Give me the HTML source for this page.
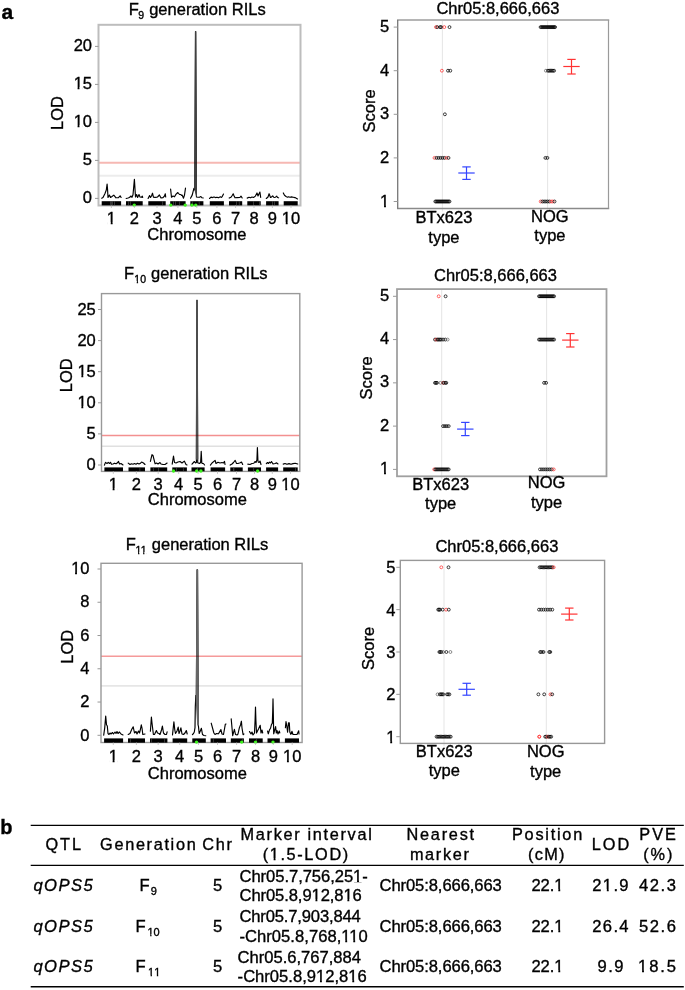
<!DOCTYPE html>
<html><head><meta charset="utf-8"><style>
html,body{margin:0;padding:0;background:#fff;}
svg{display:block;will-change:transform;}
text{font-family:"Liberation Sans", sans-serif;fill:#000;stroke:#000;stroke-width:0.35px;}
</style></head><body>
<svg width="685" height="990" viewBox="0 0 685 990">
<rect width="685" height="990" fill="#fff"/>
<path d="M101.70,198.20 L103.00,197.50 L105.00,193.50 L106.30,190.00 L107.10,184.10 L107.60,190.00 L108.00,197.50 L109.40,195.10 L110.50,197.50 L112.00,196.50 L113.80,195.10 L116.00,197.80 L118.50,197.60 L120.10,195.80 L121.10,197.50" fill="none" stroke="#000" stroke-width="1.15" stroke-linejoin="round" stroke-linecap="round"/>
<path d="M126.20,198.50 L128.00,198.00 L129.50,197.50 L131.00,196.00 L132.00,197.30 L133.00,194.80 L134.40,179.40 L135.50,197.00 L136.60,194.50 L137.60,197.50 L139.00,194.50 L140.00,197.00 L141.20,197.30 L142.30,196.20 L142.70,197.50" fill="none" stroke="#000" stroke-width="1.15" stroke-linejoin="round" stroke-linecap="round"/>
<path d="M148.10,198.50 L149.60,195.60 L150.50,197.50 L151.50,196.00 L152.50,193.20 L153.50,197.30 L155.00,197.40 L157.00,197.20 L158.00,196.50 L159.40,194.90 L161.00,198.00 L163.00,197.60 L164.50,196.00 L165.30,193.80 L165.70,197.00" fill="none" stroke="#000" stroke-width="1.15" stroke-linejoin="round" stroke-linecap="round"/>
<path d="M170.60,189.10 L171.50,197.20 L173.00,196.00 L174.50,196.80 L176.10,194.10 L177.80,192.50 L179.50,194.50 L180.80,194.50 L181.50,195.50 L182.10,195.10 L183.50,198.20 L184.50,195.00 L185.50,188.10" fill="none" stroke="#000" stroke-width="1.15" stroke-linejoin="round" stroke-linecap="round"/>
<path d="M190.50,198.20 L192.20,195.10 L193.90,188.40 L194.80,190.00 L195.50,31.60 L195.70,31.60 L196.45,197.00 L198.00,197.20 L199.50,197.30 L200.90,196.50 L202.00,197.80 L203.30,198.00" fill="none" stroke="#000" stroke-width="1.15" stroke-linejoin="round" stroke-linecap="round"/>
<path d="M209.50,198.50 L211.00,197.10 L212.50,197.60 L214.00,196.90 L215.50,197.60 L217.00,197.20 L218.40,197.80 L220.40,196.80 L221.20,197.40 L222.10,196.80 L223.50,194.10" fill="none" stroke="#000" stroke-width="1.15" stroke-linejoin="round" stroke-linecap="round"/>
<path d="M229.20,198.10 L231.00,197.20 L232.20,195.50 L233.20,193.80 L234.00,195.80 L235.00,197.80 L237.00,197.60 L239.90,197.50 L241.00,196.10 L242.20,198.00" fill="none" stroke="#000" stroke-width="1.15" stroke-linejoin="round" stroke-linecap="round"/>
<path d="M247.20,198.10 L249.00,197.30 L250.50,197.80 L252.00,197.00 L253.50,197.50 L255.40,196.10 L257.00,192.90 L258.00,196.00 L259.90,192.00 L260.70,197.50" fill="none" stroke="#000" stroke-width="1.15" stroke-linejoin="round" stroke-linecap="round"/>
<path d="M266.30,198.50 L268.00,197.00 L269.10,193.70 L270.50,197.50 L271.50,197.00 L272.70,195.80 L274.00,197.50 L275.50,197.20 L276.70,196.10 L277.50,197.50 L278.60,197.80" fill="none" stroke="#000" stroke-width="1.15" stroke-linejoin="round" stroke-linecap="round"/>
<path d="M283.30,192.90 L284.50,195.30 L286.00,196.50 L287.50,197.20 L288.50,196.80 L290.00,197.30 L291.50,196.90 L293.20,197.20 L295.00,197.60 L297.50,198.90" fill="none" stroke="#000" stroke-width="1.15" stroke-linejoin="round" stroke-linecap="round"/>
<path d="M194.80,189.00 L195.50,31.60 L195.70,31.60 L196.45,196.00Z" fill="#404040" stroke="#404040" stroke-width="1.05" stroke-linejoin="round"/>
<line x1="98.50" y1="162.80" x2="300.50" y2="162.80" stroke="#f6b8b3" stroke-width="2.0" style="mix-blend-mode:multiply"/>
<line x1="98.50" y1="175.70" x2="300.50" y2="175.70" stroke="#ececec" stroke-width="2.0" style="mix-blend-mode:multiply"/>
<rect x="98.50" y="24.80" width="202.00" height="180.70" fill="none" stroke="#bdbdbd" stroke-width="2.0"/>
<rect x="101.70" y="201.20" width="19.40" height="4.20" fill="#000"/>
<rect x="114.03" y="201.20" width="0.5" height="4.20" fill="#666"/>
<rect x="112.02" y="201.20" width="0.5" height="4.20" fill="#666"/>
<rect x="111.53" y="201.20" width="0.5" height="4.20" fill="#666"/>
<rect x="110.25" y="201.20" width="0.5" height="4.20" fill="#666"/>
<rect x="126.00" y="201.20" width="16.70" height="4.20" fill="#000"/>
<rect x="128.33" y="201.20" width="0.5" height="4.20" fill="#666"/>
<rect x="130.28" y="201.20" width="0.5" height="4.20" fill="#666"/>
<rect x="148.30" y="201.20" width="17.40" height="4.20" fill="#000"/>
<rect x="162.52" y="201.20" width="0.5" height="4.20" fill="#666"/>
<rect x="170.20" y="201.20" width="15.40" height="4.20" fill="#000"/>
<rect x="173.13" y="201.20" width="0.5" height="4.20" fill="#666"/>
<rect x="175.33" y="201.20" width="0.5" height="4.20" fill="#666"/>
<rect x="178.99" y="201.20" width="0.5" height="4.20" fill="#666"/>
<rect x="190.30" y="201.20" width="13.10" height="4.20" fill="#000"/>
<rect x="191.96" y="201.20" width="0.5" height="4.20" fill="#666"/>
<rect x="198.85" y="201.20" width="0.5" height="4.20" fill="#666"/>
<rect x="209.80" y="201.20" width="14.10" height="4.20" fill="#000"/>
<rect x="229.00" y="201.20" width="13.20" height="4.20" fill="#000"/>
<rect x="238.90" y="201.20" width="0.5" height="4.20" fill="#666"/>
<rect x="236.43" y="201.20" width="0.5" height="4.20" fill="#666"/>
<rect x="247.30" y="201.20" width="13.40" height="4.20" fill="#000"/>
<rect x="259.47" y="201.20" width="0.5" height="4.20" fill="#666"/>
<rect x="253.07" y="201.20" width="0.5" height="4.20" fill="#666"/>
<rect x="266.10" y="201.20" width="12.50" height="4.20" fill="#000"/>
<rect x="272.23" y="201.20" width="0.5" height="4.20" fill="#666"/>
<rect x="274.12" y="201.20" width="0.5" height="4.20" fill="#666"/>
<rect x="283.70" y="201.20" width="14.00" height="4.20" fill="#000"/>
<circle cx="134.30" cy="205.10" r="1.7" fill="#3cf01c"/>
<circle cx="170.80" cy="205.10" r="1.7" fill="#3cf01c"/>
<circle cx="185.20" cy="205.10" r="1.7" fill="#3cf01c"/>
<circle cx="191.90" cy="205.10" r="1.7" fill="#3cf01c"/>
<circle cx="195.80" cy="205.10" r="1.7" fill="#3cf01c"/>
<line x1="95.00" y1="198.40" x2="98.50" y2="198.40" stroke="#999" stroke-width="1" />
<text x="92.00" y="202.70" font-size="16.5" text-anchor="end" >0</text>
<line x1="95.00" y1="160.40" x2="98.50" y2="160.40" stroke="#999" stroke-width="1" />
<text x="92.00" y="164.70" font-size="16.5" text-anchor="end" >5</text>
<line x1="95.00" y1="122.40" x2="98.50" y2="122.40" stroke="#999" stroke-width="1" />
<text x="92.00" y="126.70" font-size="16.5" text-anchor="end" >10</text>
<line x1="95.00" y1="84.40" x2="98.50" y2="84.40" stroke="#999" stroke-width="1" />
<text x="92.00" y="88.70" font-size="16.5" text-anchor="end" >15</text>
<line x1="95.00" y1="46.40" x2="98.50" y2="46.40" stroke="#999" stroke-width="1" />
<text x="92.00" y="50.70" font-size="16.5" text-anchor="end" >20</text>
<line x1="111.40" y1="205.50" x2="111.40" y2="208.00" stroke="#bbb" stroke-width="0.8" />
<text x="111.40" y="223.80" font-size="16.5" text-anchor="middle" >1</text>
<line x1="134.40" y1="205.50" x2="134.40" y2="208.00" stroke="#bbb" stroke-width="0.8" />
<text x="134.40" y="223.80" font-size="16.5" text-anchor="middle" >2</text>
<line x1="157.00" y1="205.50" x2="157.00" y2="208.00" stroke="#bbb" stroke-width="0.8" />
<text x="157.00" y="223.80" font-size="16.5" text-anchor="middle" >3</text>
<line x1="177.90" y1="205.50" x2="177.90" y2="208.00" stroke="#bbb" stroke-width="0.8" />
<text x="177.90" y="223.80" font-size="16.5" text-anchor="middle" >4</text>
<line x1="196.80" y1="205.50" x2="196.80" y2="208.00" stroke="#bbb" stroke-width="0.8" />
<text x="196.80" y="223.80" font-size="16.5" text-anchor="middle" >5</text>
<line x1="216.90" y1="205.50" x2="216.90" y2="208.00" stroke="#bbb" stroke-width="0.8" />
<text x="216.90" y="223.80" font-size="16.5" text-anchor="middle" >6</text>
<line x1="235.60" y1="205.50" x2="235.60" y2="208.00" stroke="#bbb" stroke-width="0.8" />
<text x="235.60" y="223.80" font-size="16.5" text-anchor="middle" >7</text>
<line x1="254.00" y1="205.50" x2="254.00" y2="208.00" stroke="#bbb" stroke-width="0.8" />
<text x="254.00" y="223.80" font-size="16.5" text-anchor="middle" >8</text>
<line x1="272.40" y1="205.50" x2="272.40" y2="208.00" stroke="#bbb" stroke-width="0.8" />
<text x="272.40" y="223.80" font-size="16.5" text-anchor="middle" >9</text>
<line x1="291.00" y1="205.50" x2="291.00" y2="208.00" stroke="#bbb" stroke-width="0.8" />
<text x="291.00" y="223.80" font-size="16.5" text-anchor="middle" >10</text>
<text x="147.30" y="240.30" font-size="16.5" text-anchor="start" >Chromosome</text>
<text x="0" y="0" font-size="16.5" text-anchor="middle" transform="translate(62.50,113.00) rotate(-90)">LOD</text>
<text x="128.80" y="14.90" font-size="16.5" text-anchor="start" >F</text>
<text x="138.20" y="18.60" font-size="10.5" text-anchor="start" >9</text>
<text x="149.20" y="14.90" font-size="16.5" text-anchor="start" >generation RILs</text>
<path d="M104.40,465.10 L105.50,462.40 L107.00,463.50 L108.30,462.40 L109.50,463.50 L110.50,462.30 L111.50,464.30 L113.00,464.00 L114.50,463.20 L116.00,463.80 L117.50,462.80 L118.50,461.40 L119.50,464.00 L121.00,463.50 L123.00,465.00" fill="none" stroke="#000" stroke-width="1.15" stroke-linejoin="round" stroke-linecap="round"/>
<path d="M128.20,463.10 L130.00,464.50 L131.50,463.80 L133.00,464.20 L134.50,463.50 L136.00,464.20 L137.50,463.30 L139.00,464.00 L140.50,463.20 L141.60,462.10 L143.50,463.00 L145.00,464.50" fill="none" stroke="#000" stroke-width="1.15" stroke-linejoin="round" stroke-linecap="round"/>
<path d="M150.40,461.40 L152.00,454.70 L153.00,455.50 L155.10,463.80 L156.50,463.00 L158.00,464.00 L160.00,462.50 L161.00,464.00 L163.00,464.50 L165.00,464.50 L167.10,463.10" fill="none" stroke="#000" stroke-width="1.15" stroke-linejoin="round" stroke-linecap="round"/>
<path d="M172.20,464.10 L173.50,456.10 L174.50,462.50 L176.00,463.00 L178.00,462.00 L180.00,461.50 L182.00,463.00 L184.30,461.10 L186.00,464.50 L187.00,465.00" fill="none" stroke="#000" stroke-width="1.15" stroke-linejoin="round" stroke-linecap="round"/>
<path d="M192.00,464.20 L194.40,461.50 L195.50,463.00 L196.40,462.50 L196.90,300.30 L197.10,300.30 L197.70,462.80 L199.50,463.50 L200.60,462.50 L201.00,456.00 L201.20,451.40 L201.45,456.00 L201.80,463.00 L202.50,463.50 L203.40,463.50 L204.60,465.00" fill="none" stroke="#000" stroke-width="1.15" stroke-linejoin="round" stroke-linecap="round"/>
<path d="M210.40,465.10 L212.00,463.00 L215.10,460.40 L216.00,463.50 L218.00,462.30 L220.00,463.00 L222.00,462.50 L223.50,463.00 L224.50,461.40 L225.00,464.50" fill="none" stroke="#000" stroke-width="1.15" stroke-linejoin="round" stroke-linecap="round"/>
<path d="M230.20,465.10 L232.00,464.00 L233.50,462.50 L235.20,460.40 L236.50,463.50 L238.00,463.50 L240.20,462.80 L241.50,462.00 L242.70,464.50" fill="none" stroke="#000" stroke-width="1.15" stroke-linejoin="round" stroke-linecap="round"/>
<path d="M247.80,464.10 L250.00,464.50 L252.00,463.50 L253.80,463.30 L255.00,461.50 L256.00,462.50 L256.90,460.00 L257.40,447.60 L257.90,460.00 L258.20,462.00 L259.10,462.50 L260.00,461.00 L261.00,464.50" fill="none" stroke="#000" stroke-width="1.15" stroke-linejoin="round" stroke-linecap="round"/>
<path d="M266.30,463.70 L267.50,462.50 L268.50,463.50 L269.50,462.10 L270.50,463.00 L271.50,461.50 L273.00,464.00 L275.00,463.50 L276.70,462.90 L278.00,464.00" fill="none" stroke="#000" stroke-width="1.15" stroke-linejoin="round" stroke-linecap="round"/>
<path d="M283.20,464.10 L285.00,463.50 L287.00,464.30 L289.00,463.60 L291.00,464.30 L293.00,463.60 L295.20,463.30 L297.70,464.00" fill="none" stroke="#000" stroke-width="1.15" stroke-linejoin="round" stroke-linecap="round"/>
<path d="M196.45,459.00 L196.90,300.40 L197.10,300.40 L197.65,459.00Z" fill="#505050" stroke="#505050" stroke-width="1.3" stroke-linejoin="round"/>
<line x1="101.50" y1="435.40" x2="299.80" y2="435.40" stroke="#f39090" stroke-width="1.5" style="mix-blend-mode:multiply"/>
<line x1="101.50" y1="446.30" x2="299.80" y2="446.30" stroke="#e0e0e0" stroke-width="1.5" style="mix-blend-mode:multiply"/>
<rect x="101.50" y="293.60" width="198.30" height="177.80" fill="none" stroke="#999" stroke-width="1.4"/>
<rect x="104.40" y="467.40" width="18.60" height="3.90" fill="#000"/>
<rect x="128.50" y="467.40" width="16.50" height="3.90" fill="#000"/>
<rect x="139.67" y="467.40" width="0.5" height="3.90" fill="#666"/>
<rect x="150.40" y="467.40" width="16.80" height="3.90" fill="#000"/>
<rect x="158.23" y="467.40" width="0.5" height="3.90" fill="#666"/>
<rect x="153.13" y="467.40" width="0.5" height="3.90" fill="#666"/>
<rect x="172.30" y="467.40" width="14.60" height="3.90" fill="#000"/>
<rect x="182.98" y="467.40" width="0.5" height="3.90" fill="#666"/>
<rect x="176.42" y="467.40" width="0.5" height="3.90" fill="#666"/>
<rect x="191.50" y="467.40" width="13.10" height="3.90" fill="#000"/>
<rect x="197.49" y="467.40" width="0.5" height="3.90" fill="#666"/>
<rect x="210.60" y="467.40" width="14.50" height="3.90" fill="#000"/>
<rect x="230.30" y="467.40" width="12.40" height="3.90" fill="#000"/>
<rect x="233.13" y="467.40" width="0.5" height="3.90" fill="#666"/>
<rect x="233.73" y="467.40" width="0.5" height="3.90" fill="#666"/>
<rect x="247.90" y="467.40" width="13.10" height="3.90" fill="#000"/>
<rect x="253.55" y="467.40" width="0.5" height="3.90" fill="#666"/>
<rect x="266.10" y="467.40" width="12.00" height="3.90" fill="#000"/>
<rect x="283.20" y="467.40" width="14.50" height="3.90" fill="#000"/>
<rect x="295.44" y="467.40" width="0.5" height="3.90" fill="#666"/>
<circle cx="173.50" cy="471.00" r="1.7" fill="#3cf01c"/>
<circle cx="196.70" cy="471.00" r="1.7" fill="#3cf01c"/>
<circle cx="200.90" cy="471.00" r="1.7" fill="#3cf01c"/>
<circle cx="257.60" cy="471.00" r="1.7" fill="#3cf01c"/>
<line x1="98.00" y1="465.00" x2="101.50" y2="465.00" stroke="#999" stroke-width="1" />
<text x="95.80" y="470.40" font-size="16.5" text-anchor="end" >0</text>
<line x1="98.00" y1="433.90" x2="101.50" y2="433.90" stroke="#999" stroke-width="1" />
<text x="95.80" y="439.30" font-size="16.5" text-anchor="end" >5</text>
<line x1="98.00" y1="402.80" x2="101.50" y2="402.80" stroke="#999" stroke-width="1" />
<text x="95.80" y="408.20" font-size="16.5" text-anchor="end" >10</text>
<line x1="98.00" y1="371.70" x2="101.50" y2="371.70" stroke="#999" stroke-width="1" />
<text x="95.80" y="377.10" font-size="16.5" text-anchor="end" >15</text>
<line x1="98.00" y1="340.60" x2="101.50" y2="340.60" stroke="#999" stroke-width="1" />
<text x="95.80" y="346.00" font-size="16.5" text-anchor="end" >20</text>
<line x1="98.00" y1="309.50" x2="101.50" y2="309.50" stroke="#999" stroke-width="1" />
<text x="95.80" y="314.90" font-size="16.5" text-anchor="end" >25</text>
<line x1="113.30" y1="471.40" x2="113.30" y2="473.90" stroke="#bbb" stroke-width="0.8" />
<text x="113.30" y="490.40" font-size="16.5" text-anchor="middle" >1</text>
<line x1="136.40" y1="471.40" x2="136.40" y2="473.90" stroke="#bbb" stroke-width="0.8" />
<text x="136.40" y="490.40" font-size="16.5" text-anchor="middle" >2</text>
<line x1="158.20" y1="471.40" x2="158.20" y2="473.90" stroke="#bbb" stroke-width="0.8" />
<text x="158.20" y="490.40" font-size="16.5" text-anchor="middle" >3</text>
<line x1="178.70" y1="471.40" x2="178.70" y2="473.90" stroke="#bbb" stroke-width="0.8" />
<text x="178.70" y="490.40" font-size="16.5" text-anchor="middle" >4</text>
<line x1="198.10" y1="471.40" x2="198.10" y2="473.90" stroke="#bbb" stroke-width="0.8" />
<text x="198.10" y="490.40" font-size="16.5" text-anchor="middle" >5</text>
<line x1="217.50" y1="471.40" x2="217.50" y2="473.90" stroke="#bbb" stroke-width="0.8" />
<text x="217.50" y="490.40" font-size="16.5" text-anchor="middle" >6</text>
<line x1="236.50" y1="471.40" x2="236.50" y2="473.90" stroke="#bbb" stroke-width="0.8" />
<text x="236.50" y="490.40" font-size="16.5" text-anchor="middle" >7</text>
<line x1="254.50" y1="471.40" x2="254.50" y2="473.90" stroke="#bbb" stroke-width="0.8" />
<text x="254.50" y="490.40" font-size="16.5" text-anchor="middle" >8</text>
<line x1="272.30" y1="471.40" x2="272.30" y2="473.90" stroke="#bbb" stroke-width="0.8" />
<text x="272.30" y="490.40" font-size="16.5" text-anchor="middle" >9</text>
<line x1="290.50" y1="471.40" x2="290.50" y2="473.90" stroke="#bbb" stroke-width="0.8" />
<text x="290.50" y="490.40" font-size="16.5" text-anchor="middle" >10</text>
<text x="147.80" y="504.90" font-size="16.5" text-anchor="start" >Chromosome</text>
<text x="0" y="0" font-size="16.5" text-anchor="middle" transform="translate(72.00,375.30) rotate(-90)">LOD</text>
<text x="124.10" y="278.60" font-size="16.5" text-anchor="start" >F</text>
<text x="134.30" y="282.60" font-size="10.5" text-anchor="start" >10</text>
<text x="151.10" y="278.60" font-size="16.5" text-anchor="start" >generation RILs</text>
<path d="M103.70,735.20 L104.70,728.10 L105.70,716.10 L106.50,724.80 L107.30,726.00 L108.00,733.50 L109.00,734.50 L110.00,733.00 L111.00,734.00 L112.50,732.50 L113.50,734.00 L115.00,732.00 L116.00,733.50 L117.00,731.50 L118.00,733.50 L119.50,732.00 L121.00,734.00 L123.00,735.00" fill="none" stroke="#000" stroke-width="1.15" stroke-linejoin="round" stroke-linecap="round"/>
<path d="M128.20,734.50 L130.00,733.50 L131.90,729.00 L133.20,726.80 L134.50,733.00 L136.00,731.50 L137.00,734.00 L138.50,731.00 L139.50,733.00 L140.50,729.00 L141.30,724.80 L142.00,728.00 L142.80,734.50 L145.00,734.00" fill="none" stroke="#000" stroke-width="1.15" stroke-linejoin="round" stroke-linecap="round"/>
<path d="M150.40,731.20 L151.40,717.10 L152.00,723.00 L153.40,734.50 L154.50,734.50 L156.40,730.50 L157.50,733.00 L159.00,733.50 L160.00,734.50 L161.50,730.00 L162.40,726.10 L163.50,733.00 L165.00,734.50 L166.50,734.50 L167.10,731.80" fill="none" stroke="#000" stroke-width="1.15" stroke-linejoin="round" stroke-linecap="round"/>
<path d="M172.50,734.90 L173.90,721.80 L174.80,730.00 L175.50,733.50 L177.00,731.00 L178.20,727.10 L179.00,733.50 L180.00,731.00 L180.90,727.80 L182.00,734.00 L183.50,734.50 L185.00,733.00 L186.30,730.50 L187.20,734.00" fill="none" stroke="#000" stroke-width="1.15" stroke-linejoin="round" stroke-linecap="round"/>
<path d="M192.40,734.70 L193.50,733.50 L194.30,732.00 L195.00,727.60 L195.30,706.80 L195.80,695.40 L196.30,700.00 L197.10,569.80 L197.50,569.80 L198.30,724.90 L199.20,733.50 L200.30,731.00 L201.40,728.30 L202.50,734.50 L204.00,735.50 L205.80,735.70" fill="none" stroke="#000" stroke-width="1.15" stroke-linejoin="round" stroke-linecap="round"/>
<path d="M211.20,723.20 L213.90,733.00 L215.00,734.50 L216.50,733.50 L218.50,733.80 L220.90,729.60 L222.00,734.00 L223.50,734.50 L225.30,724.30 L226.00,724.00" fill="none" stroke="#000" stroke-width="1.15" stroke-linejoin="round" stroke-linecap="round"/>
<path d="M231.20,718.90 L232.70,735.70 L234.40,729.30 L235.50,734.50 L237.00,735.00 L238.00,734.00 L239.40,727.60 L240.50,725.00 L241.40,721.20 L242.00,728.00 L243.10,734.70 L243.90,734.00" fill="none" stroke="#000" stroke-width="1.15" stroke-linejoin="round" stroke-linecap="round"/>
<path d="M249.50,731.60 L251.00,734.00 L252.00,732.00 L253.00,735.00 L254.50,733.00 L255.10,720.00 L255.50,707.10 L255.90,720.00 L256.50,733.00 L257.50,731.00 L258.50,729.00 L260.20,725.30 L261.00,733.00 L262.00,730.00 L262.70,733.00" fill="none" stroke="#000" stroke-width="1.15" stroke-linejoin="round" stroke-linecap="round"/>
<path d="M267.60,731.00 L268.30,733.80 L269.50,729.90 L270.50,728.30 L271.50,724.40 L272.30,723.30 L272.70,712.00 L273.00,698.90 L273.30,712.00 L273.70,733.80 L275.60,726.60 L276.30,733.00 L277.00,730.50 L278.00,734.00 L279.30,731.00 L279.80,733.00" fill="none" stroke="#000" stroke-width="1.15" stroke-linejoin="round" stroke-linecap="round"/>
<path d="M285.40,727.70 L286.00,721.60 L286.80,726.00 L287.60,732.20 L288.50,722.70 L289.30,722.70 L289.80,732.00 L290.80,734.40 L292.00,731.30 L293.00,734.50 L297.00,734.50 L298.70,730.80 L299.00,734.00" fill="none" stroke="#000" stroke-width="1.15" stroke-linejoin="round" stroke-linecap="round"/>
<path d="M196.40,702.00 L197.10,569.80 L197.50,569.80 L198.30,724.90 L197.90,724.90Z" fill="#666" stroke="#666" stroke-width="1.3" stroke-linejoin="round"/>
<line x1="101.00" y1="656.30" x2="302.10" y2="656.30" stroke="#f59a9a" stroke-width="1.6" style="mix-blend-mode:multiply"/>
<line x1="101.00" y1="685.90" x2="302.10" y2="685.90" stroke="#e6e6e6" stroke-width="1.6" style="mix-blend-mode:multiply"/>
<rect x="101.00" y="563.30" width="201.10" height="179.20" fill="none" stroke="#999" stroke-width="1.4"/>
<rect x="104.10" y="738.40" width="19.00" height="4.30" fill="#000"/>
<rect x="128.00" y="738.40" width="17.00" height="4.30" fill="#000"/>
<rect x="130.01" y="738.40" width="0.5" height="4.30" fill="#666"/>
<rect x="150.00" y="738.40" width="17.40" height="4.30" fill="#000"/>
<rect x="151.00" y="738.40" width="0.5" height="4.30" fill="#666"/>
<rect x="164.46" y="738.40" width="0.5" height="4.30" fill="#666"/>
<rect x="172.60" y="738.40" width="14.60" height="4.30" fill="#000"/>
<rect x="192.30" y="738.40" width="13.50" height="4.30" fill="#000"/>
<rect x="210.60" y="738.40" width="15.40" height="4.30" fill="#000"/>
<rect x="212.97" y="738.40" width="0.5" height="4.30" fill="#666"/>
<rect x="230.80" y="738.40" width="13.10" height="4.30" fill="#000"/>
<rect x="242.36" y="738.40" width="0.5" height="4.30" fill="#666"/>
<rect x="249.00" y="738.40" width="13.70" height="4.30" fill="#000"/>
<rect x="256.18" y="738.40" width="0.5" height="4.30" fill="#666"/>
<rect x="267.50" y="738.40" width="12.30" height="4.30" fill="#000"/>
<rect x="284.90" y="738.40" width="14.10" height="4.30" fill="#000"/>
<circle cx="196.50" cy="742.10" r="1.7" fill="#3cf01c"/>
<circle cx="241.70" cy="742.10" r="1.7" fill="#3cf01c"/>
<circle cx="255.50" cy="742.10" r="1.7" fill="#3cf01c"/>
<circle cx="273.00" cy="742.10" r="1.7" fill="#3cf01c"/>
<line x1="97.50" y1="735.30" x2="101.00" y2="735.30" stroke="#999" stroke-width="1" />
<text x="89.50" y="740.50" font-size="16.5" text-anchor="end" >0</text>
<line x1="97.50" y1="702.04" x2="101.00" y2="702.04" stroke="#999" stroke-width="1" />
<text x="89.50" y="707.24" font-size="16.5" text-anchor="end" >2</text>
<line x1="97.50" y1="668.78" x2="101.00" y2="668.78" stroke="#999" stroke-width="1" />
<text x="89.50" y="673.98" font-size="16.5" text-anchor="end" >4</text>
<line x1="97.50" y1="635.52" x2="101.00" y2="635.52" stroke="#999" stroke-width="1" />
<text x="89.50" y="640.72" font-size="16.5" text-anchor="end" >6</text>
<line x1="97.50" y1="602.26" x2="101.00" y2="602.26" stroke="#999" stroke-width="1" />
<text x="89.50" y="607.46" font-size="16.5" text-anchor="end" >8</text>
<line x1="97.50" y1="569.00" x2="101.00" y2="569.00" stroke="#999" stroke-width="1" />
<text x="89.50" y="574.20" font-size="16.5" text-anchor="end" >10</text>
<line x1="113.30" y1="742.50" x2="113.30" y2="745.00" stroke="#bbb" stroke-width="0.8" />
<text x="113.30" y="761.60" font-size="16.5" text-anchor="middle" >1</text>
<line x1="136.40" y1="742.50" x2="136.40" y2="745.00" stroke="#bbb" stroke-width="0.8" />
<text x="136.40" y="761.60" font-size="16.5" text-anchor="middle" >2</text>
<line x1="158.20" y1="742.50" x2="158.20" y2="745.00" stroke="#bbb" stroke-width="0.8" />
<text x="158.20" y="761.60" font-size="16.5" text-anchor="middle" >3</text>
<line x1="179.70" y1="742.50" x2="179.70" y2="745.00" stroke="#bbb" stroke-width="0.8" />
<text x="179.70" y="761.60" font-size="16.5" text-anchor="middle" >4</text>
<line x1="198.50" y1="742.50" x2="198.50" y2="745.00" stroke="#bbb" stroke-width="0.8" />
<text x="198.50" y="761.60" font-size="16.5" text-anchor="middle" >5</text>
<line x1="217.50" y1="742.50" x2="217.50" y2="745.00" stroke="#bbb" stroke-width="0.8" />
<text x="217.50" y="761.60" font-size="16.5" text-anchor="middle" >6</text>
<line x1="236.60" y1="742.50" x2="236.60" y2="745.00" stroke="#bbb" stroke-width="0.8" />
<text x="236.60" y="761.60" font-size="16.5" text-anchor="middle" >7</text>
<line x1="255.50" y1="742.50" x2="255.50" y2="745.00" stroke="#bbb" stroke-width="0.8" />
<text x="255.50" y="761.60" font-size="16.5" text-anchor="middle" >8</text>
<line x1="273.30" y1="742.50" x2="273.30" y2="745.00" stroke="#bbb" stroke-width="0.8" />
<text x="273.30" y="761.60" font-size="16.5" text-anchor="middle" >9</text>
<line x1="292.20" y1="742.50" x2="292.20" y2="745.00" stroke="#bbb" stroke-width="0.8" />
<text x="292.20" y="761.60" font-size="16.5" text-anchor="middle" >10</text>
<text x="147.80" y="778.50" font-size="16.5" text-anchor="start" >Chromosome</text>
<text x="0" y="0" font-size="16.5" text-anchor="middle" transform="translate(73.40,646.70) rotate(-90)">LOD</text>
<text x="125.80" y="550.40" font-size="16.5" text-anchor="start" >F</text>
<text x="135.60" y="554.00" font-size="10.5" text-anchor="start" >11</text>
<text x="151.80" y="550.40" font-size="16.5" text-anchor="start" >generation RILs</text>
<line x1="442.40" y1="20.00" x2="442.40" y2="211.50" stroke="#e2e2e2" stroke-width="0.9" />
<line x1="547.60" y1="20.00" x2="547.60" y2="211.50" stroke="#e2e2e2" stroke-width="0.9" />
<circle cx="436.00" cy="27.10" r="1.45" fill="none" stroke="#ff3333" stroke-width="0.75"/>
<circle cx="437.30" cy="27.10" r="1.45" fill="none" stroke="#000" stroke-width="0.75"/>
<circle cx="440.10" cy="27.10" r="1.45" fill="none" stroke="#000" stroke-width="0.75"/>
<circle cx="441.20" cy="27.10" r="1.45" fill="none" stroke="#000" stroke-width="0.75"/>
<circle cx="444.30" cy="27.10" r="1.45" fill="none" stroke="#ff3333" stroke-width="0.75"/>
<circle cx="449.50" cy="27.10" r="1.45" fill="none" stroke="#000" stroke-width="0.75"/>
<circle cx="441.90" cy="70.70" r="1.45" fill="none" stroke="#ff3333" stroke-width="0.75"/>
<circle cx="448.00" cy="70.70" r="1.45" fill="none" stroke="#000" stroke-width="0.75"/>
<circle cx="450.30" cy="70.70" r="1.45" fill="none" stroke="#000" stroke-width="0.75"/>
<circle cx="444.90" cy="114.30" r="1.45" fill="none" stroke="#000" stroke-width="0.75"/>
<circle cx="434.50" cy="157.90" r="1.45" fill="none" stroke="#ff3333" stroke-width="0.75"/>
<circle cx="436.50" cy="157.90" r="1.45" fill="none" stroke="#000" stroke-width="0.75"/>
<circle cx="438.50" cy="157.90" r="1.45" fill="none" stroke="#000" stroke-width="0.75"/>
<circle cx="440.50" cy="157.90" r="1.45" fill="none" stroke="#000" stroke-width="0.75"/>
<circle cx="442.50" cy="157.90" r="1.45" fill="none" stroke="#000" stroke-width="0.75"/>
<circle cx="444.50" cy="157.90" r="1.45" fill="none" stroke="#000" stroke-width="0.75"/>
<circle cx="446.50" cy="157.90" r="1.45" fill="none" stroke="#ff3333" stroke-width="0.75"/>
<circle cx="448.50" cy="157.90" r="1.45" fill="none" stroke="#000" stroke-width="0.75"/>
<circle cx="435.30" cy="201.50" r="1.45" fill="none" stroke="#000" stroke-width="0.75"/>
<circle cx="436.25" cy="201.50" r="1.45" fill="none" stroke="#000" stroke-width="0.75"/>
<circle cx="437.19" cy="201.50" r="1.45" fill="none" stroke="#000" stroke-width="0.75"/>
<circle cx="438.14" cy="201.50" r="1.45" fill="none" stroke="#000" stroke-width="0.75"/>
<circle cx="439.09" cy="201.50" r="1.45" fill="none" stroke="#000" stroke-width="0.75"/>
<circle cx="440.03" cy="201.50" r="1.45" fill="none" stroke="#000" stroke-width="0.75"/>
<circle cx="440.98" cy="201.50" r="1.45" fill="none" stroke="#000" stroke-width="0.75"/>
<circle cx="441.93" cy="201.50" r="1.45" fill="none" stroke="#000" stroke-width="0.75"/>
<circle cx="442.87" cy="201.50" r="1.45" fill="none" stroke="#000" stroke-width="0.75"/>
<circle cx="443.82" cy="201.50" r="1.45" fill="none" stroke="#000" stroke-width="0.75"/>
<circle cx="444.77" cy="201.50" r="1.45" fill="none" stroke="#000" stroke-width="0.75"/>
<circle cx="445.71" cy="201.50" r="1.45" fill="none" stroke="#000" stroke-width="0.75"/>
<circle cx="446.66" cy="201.50" r="1.45" fill="none" stroke="#000" stroke-width="0.75"/>
<circle cx="447.61" cy="201.50" r="1.45" fill="none" stroke="#000" stroke-width="0.75"/>
<circle cx="448.55" cy="201.50" r="1.45" fill="none" stroke="#000" stroke-width="0.75"/>
<circle cx="449.50" cy="201.50" r="1.45" fill="none" stroke="#000" stroke-width="0.75"/>
<circle cx="540.60" cy="27.10" r="1.45" fill="none" stroke="#000" stroke-width="0.75"/>
<circle cx="541.57" cy="27.10" r="1.45" fill="none" stroke="#000" stroke-width="0.75"/>
<circle cx="542.53" cy="27.10" r="1.45" fill="none" stroke="#000" stroke-width="0.75"/>
<circle cx="543.50" cy="27.10" r="1.45" fill="none" stroke="#000" stroke-width="0.75"/>
<circle cx="544.47" cy="27.10" r="1.45" fill="none" stroke="#000" stroke-width="0.75"/>
<circle cx="545.43" cy="27.10" r="1.45" fill="none" stroke="#000" stroke-width="0.75"/>
<circle cx="546.40" cy="27.10" r="1.45" fill="none" stroke="#000" stroke-width="0.75"/>
<circle cx="547.37" cy="27.10" r="1.45" fill="none" stroke="#000" stroke-width="0.75"/>
<circle cx="548.33" cy="27.10" r="1.45" fill="none" stroke="#000" stroke-width="0.75"/>
<circle cx="549.30" cy="27.10" r="1.45" fill="none" stroke="#000" stroke-width="0.75"/>
<circle cx="550.27" cy="27.10" r="1.45" fill="none" stroke="#000" stroke-width="0.75"/>
<circle cx="551.23" cy="27.10" r="1.45" fill="none" stroke="#000" stroke-width="0.75"/>
<circle cx="552.20" cy="27.10" r="1.45" fill="none" stroke="#000" stroke-width="0.75"/>
<circle cx="553.17" cy="27.10" r="1.45" fill="none" stroke="#000" stroke-width="0.75"/>
<circle cx="554.13" cy="27.10" r="1.45" fill="none" stroke="#000" stroke-width="0.75"/>
<circle cx="555.10" cy="27.10" r="1.45" fill="none" stroke="#000" stroke-width="0.75"/>
<circle cx="545.90" cy="70.70" r="1.45" fill="none" stroke="#666" stroke-width="0.75"/>
<circle cx="548.00" cy="70.70" r="1.45" fill="none" stroke="#000" stroke-width="0.75"/>
<circle cx="549.22" cy="70.70" r="1.45" fill="none" stroke="#000" stroke-width="0.75"/>
<circle cx="550.44" cy="70.70" r="1.45" fill="none" stroke="#000" stroke-width="0.75"/>
<circle cx="551.66" cy="70.70" r="1.45" fill="none" stroke="#000" stroke-width="0.75"/>
<circle cx="552.88" cy="70.70" r="1.45" fill="none" stroke="#000" stroke-width="0.75"/>
<circle cx="554.10" cy="70.70" r="1.45" fill="none" stroke="#000" stroke-width="0.75"/>
<circle cx="545.40" cy="157.90" r="1.45" fill="none" stroke="#000" stroke-width="0.75"/>
<circle cx="547.40" cy="157.90" r="1.45" fill="none" stroke="#000" stroke-width="0.75"/>
<circle cx="540.70" cy="201.50" r="1.45" fill="none" stroke="#ff3333" stroke-width="0.75"/>
<circle cx="542.43" cy="201.50" r="1.45" fill="none" stroke="#000" stroke-width="0.75"/>
<circle cx="544.15" cy="201.50" r="1.45" fill="none" stroke="#000" stroke-width="0.75"/>
<circle cx="545.88" cy="201.50" r="1.45" fill="none" stroke="#000" stroke-width="0.75"/>
<circle cx="547.60" cy="201.50" r="1.45" fill="none" stroke="#000" stroke-width="0.75"/>
<circle cx="549.33" cy="201.50" r="1.45" fill="none" stroke="#000" stroke-width="0.75"/>
<circle cx="551.05" cy="201.50" r="1.45" fill="none" stroke="#ff3333" stroke-width="0.75"/>
<circle cx="552.77" cy="201.50" r="1.45" fill="none" stroke="#ff3333" stroke-width="0.75"/>
<circle cx="554.50" cy="201.50" r="1.45" fill="none" stroke="#000" stroke-width="0.75"/>
<line x1="458.30" y1="173.00" x2="474.70" y2="173.00" stroke="#3344ff" stroke-width="1.2" />
<line x1="466.50" y1="166.90" x2="466.50" y2="179.40" stroke="#3344ff" stroke-width="1.2" />
<line x1="462.30" y1="166.90" x2="470.70" y2="166.90" stroke="#3344ff" stroke-width="1.2" />
<line x1="462.30" y1="179.40" x2="470.70" y2="179.40" stroke="#3344ff" stroke-width="1.2" />
<line x1="563.30" y1="66.50" x2="579.70" y2="66.50" stroke="#ff3333" stroke-width="1.2" />
<line x1="571.50" y1="59.40" x2="571.50" y2="74.00" stroke="#ff3333" stroke-width="1.2" />
<line x1="567.30" y1="59.40" x2="575.70" y2="59.40" stroke="#ff3333" stroke-width="1.2" />
<line x1="567.30" y1="74.00" x2="575.70" y2="74.00" stroke="#ff3333" stroke-width="1.2" />
<line x1="397.00" y1="20.00" x2="609.20" y2="20.00" stroke="#b5b5b5" stroke-width="2.0" stroke-linecap="butt"/>
<line x1="397.00" y1="208.50" x2="609.20" y2="208.50" stroke="#8a8a8a" stroke-width="1.3" />
<line x1="397.70" y1="20.00" x2="397.70" y2="208.50" stroke="#777" stroke-width="1.3" />
<line x1="608.50" y1="20.00" x2="608.50" y2="208.50" stroke="#9a9a9a" stroke-width="1.2" />
<line x1="393.70" y1="201.50" x2="397.70" y2="201.50" stroke="#999" stroke-width="1" />
<text x="389.30" y="206.60" font-size="16.5" text-anchor="end" >1</text>
<line x1="393.70" y1="157.90" x2="397.70" y2="157.90" stroke="#999" stroke-width="1" />
<text x="389.30" y="163.00" font-size="16.5" text-anchor="end" >2</text>
<line x1="393.70" y1="114.30" x2="397.70" y2="114.30" stroke="#999" stroke-width="1" />
<text x="389.30" y="119.40" font-size="16.5" text-anchor="end" >3</text>
<line x1="393.70" y1="70.70" x2="397.70" y2="70.70" stroke="#999" stroke-width="1" />
<text x="389.30" y="75.80" font-size="16.5" text-anchor="end" >4</text>
<line x1="393.70" y1="27.10" x2="397.70" y2="27.10" stroke="#999" stroke-width="1" />
<text x="389.30" y="32.20" font-size="16.5" text-anchor="end" >5</text>
<text x="436.40" y="13.60" font-size="16.5" text-anchor="start" >Chr05:8,666,663</text>
<text x="0" y="0" font-size="16.5" text-anchor="middle" transform="translate(374.50,110.90) rotate(-90)">Score</text>
<text x="443.90" y="222.90" font-size="16.5" text-anchor="middle" >BTx623</text>
<text x="443.90" y="242.60" font-size="16.5" text-anchor="middle" >type</text>
<text x="549.90" y="221.50" font-size="16.5" text-anchor="middle" >NOG</text>
<text x="549.90" y="241.20" font-size="16.5" text-anchor="middle" >type</text>
<line x1="441.70" y1="289.10" x2="441.70" y2="479.30" stroke="#e2e2e2" stroke-width="0.9" />
<line x1="546.60" y1="289.10" x2="546.60" y2="479.30" stroke="#e2e2e2" stroke-width="0.9" />
<circle cx="438.70" cy="296.30" r="1.45" fill="none" stroke="#ff3333" stroke-width="0.75"/>
<circle cx="445.60" cy="296.30" r="1.45" fill="none" stroke="#000" stroke-width="0.75"/>
<circle cx="435.00" cy="339.57" r="1.45" fill="none" stroke="#000" stroke-width="0.75"/>
<circle cx="436.20" cy="339.57" r="1.45" fill="none" stroke="#ff3333" stroke-width="0.75"/>
<circle cx="437.40" cy="339.57" r="1.45" fill="none" stroke="#000" stroke-width="0.75"/>
<circle cx="438.60" cy="339.57" r="1.45" fill="none" stroke="#000" stroke-width="0.75"/>
<circle cx="439.80" cy="339.57" r="1.45" fill="none" stroke="#000" stroke-width="0.75"/>
<circle cx="441.00" cy="339.57" r="1.45" fill="none" stroke="#000" stroke-width="0.75"/>
<circle cx="443.00" cy="339.57" r="1.45" fill="none" stroke="#000" stroke-width="0.75"/>
<circle cx="445.30" cy="339.57" r="1.45" fill="none" stroke="#000" stroke-width="0.75"/>
<circle cx="447.60" cy="339.57" r="1.45" fill="none" stroke="#666" stroke-width="0.75"/>
<circle cx="435.00" cy="382.85" r="1.45" fill="none" stroke="#000" stroke-width="0.75"/>
<circle cx="436.00" cy="382.85" r="1.45" fill="none" stroke="#000" stroke-width="0.75"/>
<circle cx="437.00" cy="382.85" r="1.45" fill="none" stroke="#000" stroke-width="0.75"/>
<circle cx="440.50" cy="382.85" r="1.45" fill="none" stroke="#666" stroke-width="0.75"/>
<circle cx="443.30" cy="382.85" r="1.45" fill="none" stroke="#ff3333" stroke-width="0.75"/>
<circle cx="443.60" cy="382.85" r="1.45" fill="none" stroke="#000" stroke-width="0.75"/>
<circle cx="445.30" cy="382.85" r="1.45" fill="none" stroke="#000" stroke-width="0.75"/>
<circle cx="446.30" cy="382.85" r="1.45" fill="none" stroke="#000" stroke-width="0.75"/>
<circle cx="443.10" cy="426.12" r="1.45" fill="none" stroke="#000" stroke-width="0.75"/>
<circle cx="444.97" cy="426.12" r="1.45" fill="none" stroke="#000" stroke-width="0.75"/>
<circle cx="446.83" cy="426.12" r="1.45" fill="none" stroke="#000" stroke-width="0.75"/>
<circle cx="448.70" cy="426.12" r="1.45" fill="none" stroke="#000" stroke-width="0.75"/>
<circle cx="434.20" cy="469.40" r="1.45" fill="none" stroke="#ff3333" stroke-width="0.75"/>
<circle cx="435.32" cy="469.40" r="1.45" fill="none" stroke="#000" stroke-width="0.75"/>
<circle cx="436.43" cy="469.40" r="1.45" fill="none" stroke="#000" stroke-width="0.75"/>
<circle cx="437.55" cy="469.40" r="1.45" fill="none" stroke="#000" stroke-width="0.75"/>
<circle cx="438.66" cy="469.40" r="1.45" fill="none" stroke="#000" stroke-width="0.75"/>
<circle cx="439.78" cy="469.40" r="1.45" fill="none" stroke="#000" stroke-width="0.75"/>
<circle cx="440.89" cy="469.40" r="1.45" fill="none" stroke="#000" stroke-width="0.75"/>
<circle cx="442.01" cy="469.40" r="1.45" fill="none" stroke="#000" stroke-width="0.75"/>
<circle cx="443.12" cy="469.40" r="1.45" fill="none" stroke="#000" stroke-width="0.75"/>
<circle cx="444.24" cy="469.40" r="1.45" fill="none" stroke="#000" stroke-width="0.75"/>
<circle cx="445.35" cy="469.40" r="1.45" fill="none" stroke="#000" stroke-width="0.75"/>
<circle cx="446.47" cy="469.40" r="1.45" fill="none" stroke="#000" stroke-width="0.75"/>
<circle cx="447.58" cy="469.40" r="1.45" fill="none" stroke="#000" stroke-width="0.75"/>
<circle cx="448.70" cy="469.40" r="1.45" fill="none" stroke="#000" stroke-width="0.75"/>
<circle cx="539.00" cy="296.30" r="1.45" fill="none" stroke="#000" stroke-width="0.75"/>
<circle cx="540.01" cy="296.30" r="1.45" fill="none" stroke="#000" stroke-width="0.75"/>
<circle cx="541.01" cy="296.30" r="1.45" fill="none" stroke="#000" stroke-width="0.75"/>
<circle cx="542.02" cy="296.30" r="1.45" fill="none" stroke="#000" stroke-width="0.75"/>
<circle cx="543.03" cy="296.30" r="1.45" fill="none" stroke="#000" stroke-width="0.75"/>
<circle cx="544.03" cy="296.30" r="1.45" fill="none" stroke="#000" stroke-width="0.75"/>
<circle cx="545.04" cy="296.30" r="1.45" fill="none" stroke="#000" stroke-width="0.75"/>
<circle cx="546.05" cy="296.30" r="1.45" fill="none" stroke="#000" stroke-width="0.75"/>
<circle cx="547.05" cy="296.30" r="1.45" fill="none" stroke="#000" stroke-width="0.75"/>
<circle cx="548.06" cy="296.30" r="1.45" fill="none" stroke="#000" stroke-width="0.75"/>
<circle cx="549.07" cy="296.30" r="1.45" fill="none" stroke="#000" stroke-width="0.75"/>
<circle cx="550.07" cy="296.30" r="1.45" fill="none" stroke="#000" stroke-width="0.75"/>
<circle cx="551.08" cy="296.30" r="1.45" fill="none" stroke="#000" stroke-width="0.75"/>
<circle cx="552.09" cy="296.30" r="1.45" fill="none" stroke="#000" stroke-width="0.75"/>
<circle cx="553.09" cy="296.30" r="1.45" fill="none" stroke="#000" stroke-width="0.75"/>
<circle cx="554.10" cy="296.30" r="1.45" fill="none" stroke="#000" stroke-width="0.75"/>
<circle cx="539.00" cy="339.57" r="1.45" fill="none" stroke="#000" stroke-width="0.75"/>
<circle cx="540.16" cy="339.57" r="1.45" fill="none" stroke="#000" stroke-width="0.75"/>
<circle cx="541.32" cy="339.57" r="1.45" fill="none" stroke="#000" stroke-width="0.75"/>
<circle cx="542.48" cy="339.57" r="1.45" fill="none" stroke="#000" stroke-width="0.75"/>
<circle cx="543.65" cy="339.57" r="1.45" fill="none" stroke="#000" stroke-width="0.75"/>
<circle cx="544.81" cy="339.57" r="1.45" fill="none" stroke="#000" stroke-width="0.75"/>
<circle cx="545.97" cy="339.57" r="1.45" fill="none" stroke="#000" stroke-width="0.75"/>
<circle cx="547.13" cy="339.57" r="1.45" fill="none" stroke="#000" stroke-width="0.75"/>
<circle cx="548.29" cy="339.57" r="1.45" fill="none" stroke="#000" stroke-width="0.75"/>
<circle cx="549.45" cy="339.57" r="1.45" fill="none" stroke="#000" stroke-width="0.75"/>
<circle cx="550.62" cy="339.57" r="1.45" fill="none" stroke="#000" stroke-width="0.75"/>
<circle cx="551.78" cy="339.57" r="1.45" fill="none" stroke="#000" stroke-width="0.75"/>
<circle cx="552.94" cy="339.57" r="1.45" fill="none" stroke="#000" stroke-width="0.75"/>
<circle cx="554.10" cy="339.57" r="1.45" fill="none" stroke="#000" stroke-width="0.75"/>
<circle cx="544.10" cy="382.85" r="1.45" fill="none" stroke="#000" stroke-width="0.75"/>
<circle cx="546.10" cy="382.85" r="1.45" fill="none" stroke="#000" stroke-width="0.75"/>
<circle cx="540.00" cy="469.40" r="1.45" fill="none" stroke="#000" stroke-width="0.75"/>
<circle cx="541.96" cy="469.40" r="1.45" fill="none" stroke="#000" stroke-width="0.75"/>
<circle cx="543.91" cy="469.40" r="1.45" fill="none" stroke="#000" stroke-width="0.75"/>
<circle cx="545.87" cy="469.40" r="1.45" fill="none" stroke="#000" stroke-width="0.75"/>
<circle cx="547.83" cy="469.40" r="1.45" fill="none" stroke="#000" stroke-width="0.75"/>
<circle cx="549.79" cy="469.40" r="1.45" fill="none" stroke="#000" stroke-width="0.75"/>
<circle cx="551.74" cy="469.40" r="1.45" fill="none" stroke="#000" stroke-width="0.75"/>
<circle cx="553.70" cy="469.40" r="1.45" fill="none" stroke="#ff3333" stroke-width="0.75"/>
<line x1="457.10" y1="429.10" x2="473.50" y2="429.10" stroke="#3344ff" stroke-width="1.2" />
<line x1="465.30" y1="422.40" x2="465.30" y2="435.60" stroke="#3344ff" stroke-width="1.2" />
<line x1="461.10" y1="422.40" x2="469.50" y2="422.40" stroke="#3344ff" stroke-width="1.2" />
<line x1="461.10" y1="435.60" x2="469.50" y2="435.60" stroke="#3344ff" stroke-width="1.2" />
<line x1="562.10" y1="340.10" x2="578.50" y2="340.10" stroke="#ff3333" stroke-width="1.2" />
<line x1="570.30" y1="333.60" x2="570.30" y2="347.00" stroke="#ff3333" stroke-width="1.2" />
<line x1="566.10" y1="333.60" x2="574.50" y2="333.60" stroke="#ff3333" stroke-width="1.2" />
<line x1="566.10" y1="347.00" x2="574.50" y2="347.00" stroke="#ff3333" stroke-width="1.2" />
<rect x="397.00" y="289.10" width="209.50" height="187.20" fill="none" stroke="#a0a0a0" stroke-width="1.8"/>
<line x1="393.00" y1="469.40" x2="397.00" y2="469.40" stroke="#999" stroke-width="1" />
<text x="389.30" y="473.80" font-size="16.5" text-anchor="end" >1</text>
<line x1="393.00" y1="426.12" x2="397.00" y2="426.12" stroke="#999" stroke-width="1" />
<text x="389.30" y="430.52" font-size="16.5" text-anchor="end" >2</text>
<line x1="393.00" y1="382.85" x2="397.00" y2="382.85" stroke="#999" stroke-width="1" />
<text x="389.30" y="387.25" font-size="16.5" text-anchor="end" >3</text>
<line x1="393.00" y1="339.57" x2="397.00" y2="339.57" stroke="#999" stroke-width="1" />
<text x="389.30" y="343.97" font-size="16.5" text-anchor="end" >4</text>
<line x1="393.00" y1="296.30" x2="397.00" y2="296.30" stroke="#999" stroke-width="1" />
<text x="389.30" y="300.70" font-size="16.5" text-anchor="end" >5</text>
<text x="434.00" y="280.80" font-size="16.5" text-anchor="start" >Chr05:8,666,663</text>
<text x="0" y="0" font-size="16.5" text-anchor="middle" transform="translate(372.00,377.90) rotate(-90)">Score</text>
<text x="440.70" y="489.50" font-size="16.5" text-anchor="middle" >BTx623</text>
<text x="440.70" y="508.80" font-size="16.5" text-anchor="middle" >type</text>
<text x="546.60" y="488.30" font-size="16.5" text-anchor="middle" >NOG</text>
<text x="546.60" y="507.60" font-size="16.5" text-anchor="middle" >type</text>
<line x1="444.00" y1="560.40" x2="444.00" y2="746.40" stroke="#e2e2e2" stroke-width="0.9" />
<line x1="546.30" y1="560.40" x2="546.30" y2="746.40" stroke="#e2e2e2" stroke-width="0.9" />
<circle cx="441.30" cy="567.30" r="1.45" fill="none" stroke="#ff3333" stroke-width="0.75"/>
<circle cx="448.50" cy="567.30" r="1.45" fill="none" stroke="#000" stroke-width="0.75"/>
<circle cx="438.20" cy="609.65" r="1.45" fill="none" stroke="#000" stroke-width="0.75"/>
<circle cx="439.10" cy="609.65" r="1.45" fill="none" stroke="#000" stroke-width="0.75"/>
<circle cx="440.00" cy="609.65" r="1.45" fill="none" stroke="#000" stroke-width="0.75"/>
<circle cx="442.70" cy="609.65" r="1.45" fill="none" stroke="#000" stroke-width="0.75"/>
<circle cx="446.10" cy="609.65" r="1.45" fill="none" stroke="#ff3333" stroke-width="0.75"/>
<circle cx="448.80" cy="609.65" r="1.45" fill="none" stroke="#000" stroke-width="0.75"/>
<circle cx="439.40" cy="652.00" r="1.45" fill="none" stroke="#000" stroke-width="0.75"/>
<circle cx="440.30" cy="652.00" r="1.45" fill="none" stroke="#000" stroke-width="0.75"/>
<circle cx="441.20" cy="652.00" r="1.45" fill="none" stroke="#000" stroke-width="0.75"/>
<circle cx="443.00" cy="652.00" r="1.45" fill="none" stroke="#666" stroke-width="0.75"/>
<circle cx="446.40" cy="652.00" r="1.45" fill="none" stroke="#000" stroke-width="0.75"/>
<circle cx="450.40" cy="652.00" r="1.45" fill="none" stroke="#666" stroke-width="0.75"/>
<circle cx="437.60" cy="694.35" r="1.45" fill="none" stroke="#666" stroke-width="0.75"/>
<circle cx="439.90" cy="694.35" r="1.45" fill="none" stroke="#000" stroke-width="0.75"/>
<circle cx="441.00" cy="694.35" r="1.45" fill="none" stroke="#000" stroke-width="0.75"/>
<circle cx="442.10" cy="694.35" r="1.45" fill="none" stroke="#000" stroke-width="0.75"/>
<circle cx="443.20" cy="694.35" r="1.45" fill="none" stroke="#000" stroke-width="0.75"/>
<circle cx="447.00" cy="694.35" r="1.45" fill="none" stroke="#000" stroke-width="0.75"/>
<circle cx="448.20" cy="694.35" r="1.45" fill="none" stroke="#000" stroke-width="0.75"/>
<circle cx="449.40" cy="694.35" r="1.45" fill="none" stroke="#000" stroke-width="0.75"/>
<circle cx="436.60" cy="736.70" r="1.45" fill="none" stroke="#000" stroke-width="0.75"/>
<circle cx="437.88" cy="736.70" r="1.45" fill="none" stroke="#000" stroke-width="0.75"/>
<circle cx="439.16" cy="736.70" r="1.45" fill="none" stroke="#000" stroke-width="0.75"/>
<circle cx="440.45" cy="736.70" r="1.45" fill="none" stroke="#000" stroke-width="0.75"/>
<circle cx="441.73" cy="736.70" r="1.45" fill="none" stroke="#000" stroke-width="0.75"/>
<circle cx="443.01" cy="736.70" r="1.45" fill="none" stroke="#000" stroke-width="0.75"/>
<circle cx="444.29" cy="736.70" r="1.45" fill="none" stroke="#000" stroke-width="0.75"/>
<circle cx="445.57" cy="736.70" r="1.45" fill="none" stroke="#000" stroke-width="0.75"/>
<circle cx="446.85" cy="736.70" r="1.45" fill="none" stroke="#000" stroke-width="0.75"/>
<circle cx="448.14" cy="736.70" r="1.45" fill="none" stroke="#000" stroke-width="0.75"/>
<circle cx="449.42" cy="736.70" r="1.45" fill="none" stroke="#000" stroke-width="0.75"/>
<circle cx="450.70" cy="736.70" r="1.45" fill="none" stroke="#000" stroke-width="0.75"/>
<circle cx="539.60" cy="567.30" r="1.45" fill="none" stroke="#000" stroke-width="0.75"/>
<circle cx="540.88" cy="567.30" r="1.45" fill="none" stroke="#000" stroke-width="0.75"/>
<circle cx="542.16" cy="567.30" r="1.45" fill="none" stroke="#000" stroke-width="0.75"/>
<circle cx="543.45" cy="567.30" r="1.45" fill="none" stroke="#000" stroke-width="0.75"/>
<circle cx="544.73" cy="567.30" r="1.45" fill="none" stroke="#000" stroke-width="0.75"/>
<circle cx="546.01" cy="567.30" r="1.45" fill="none" stroke="#000" stroke-width="0.75"/>
<circle cx="547.29" cy="567.30" r="1.45" fill="none" stroke="#000" stroke-width="0.75"/>
<circle cx="548.57" cy="567.30" r="1.45" fill="none" stroke="#000" stroke-width="0.75"/>
<circle cx="549.85" cy="567.30" r="1.45" fill="none" stroke="#000" stroke-width="0.75"/>
<circle cx="551.14" cy="567.30" r="1.45" fill="none" stroke="#000" stroke-width="0.75"/>
<circle cx="552.42" cy="567.30" r="1.45" fill="none" stroke="#000" stroke-width="0.75"/>
<circle cx="553.70" cy="567.30" r="1.45" fill="none" stroke="#ff3333" stroke-width="0.75"/>
<circle cx="539.00" cy="609.65" r="1.45" fill="none" stroke="#000" stroke-width="0.75"/>
<circle cx="541.22" cy="609.65" r="1.45" fill="none" stroke="#000" stroke-width="0.75"/>
<circle cx="543.43" cy="609.65" r="1.45" fill="none" stroke="#000" stroke-width="0.75"/>
<circle cx="545.65" cy="609.65" r="1.45" fill="none" stroke="#000" stroke-width="0.75"/>
<circle cx="547.87" cy="609.65" r="1.45" fill="none" stroke="#000" stroke-width="0.75"/>
<circle cx="550.08" cy="609.65" r="1.45" fill="none" stroke="#000" stroke-width="0.75"/>
<circle cx="552.30" cy="609.65" r="1.45" fill="none" stroke="#000" stroke-width="0.75"/>
<circle cx="540.20" cy="652.00" r="1.45" fill="none" stroke="#000" stroke-width="0.75"/>
<circle cx="541.30" cy="652.00" r="1.45" fill="none" stroke="#000" stroke-width="0.75"/>
<circle cx="542.40" cy="652.00" r="1.45" fill="none" stroke="#666" stroke-width="0.75"/>
<circle cx="543.50" cy="652.00" r="1.45" fill="none" stroke="#000" stroke-width="0.75"/>
<circle cx="549.20" cy="652.00" r="1.45" fill="none" stroke="#000" stroke-width="0.75"/>
<circle cx="550.30" cy="652.00" r="1.45" fill="none" stroke="#000" stroke-width="0.75"/>
<circle cx="538.40" cy="694.35" r="1.45" fill="none" stroke="#000" stroke-width="0.75"/>
<circle cx="544.20" cy="694.35" r="1.45" fill="none" stroke="#000" stroke-width="0.75"/>
<circle cx="550.50" cy="694.35" r="1.45" fill="none" stroke="#ff3333" stroke-width="0.75"/>
<circle cx="552.20" cy="694.35" r="1.45" fill="none" stroke="#000" stroke-width="0.75"/>
<circle cx="539.30" cy="736.70" r="1.45" fill="none" stroke="#ff3333" stroke-width="0.75"/>
<circle cx="539.30" cy="736.70" r="1.45" fill="none" stroke="#ff3333" stroke-width="0.75"/>
<circle cx="545.20" cy="736.70" r="1.45" fill="none" stroke="#000" stroke-width="0.75"/>
<circle cx="546.40" cy="736.70" r="1.45" fill="none" stroke="#000" stroke-width="0.75"/>
<circle cx="547.60" cy="736.70" r="1.45" fill="none" stroke="#ff3333" stroke-width="0.75"/>
<circle cx="548.80" cy="736.70" r="1.45" fill="none" stroke="#000" stroke-width="0.75"/>
<circle cx="550.00" cy="736.70" r="1.45" fill="none" stroke="#000" stroke-width="0.75"/>
<circle cx="551.20" cy="736.70" r="1.45" fill="none" stroke="#000" stroke-width="0.75"/>
<line x1="458.50" y1="689.30" x2="474.90" y2="689.30" stroke="#3344ff" stroke-width="1.2" />
<line x1="466.70" y1="683.30" x2="466.70" y2="695.20" stroke="#3344ff" stroke-width="1.2" />
<line x1="462.50" y1="683.30" x2="470.90" y2="683.30" stroke="#3344ff" stroke-width="1.2" />
<line x1="462.50" y1="695.20" x2="470.90" y2="695.20" stroke="#3344ff" stroke-width="1.2" />
<line x1="561.10" y1="614.10" x2="577.50" y2="614.10" stroke="#ff3333" stroke-width="1.2" />
<line x1="569.30" y1="608.10" x2="569.30" y2="620.00" stroke="#ff3333" stroke-width="1.2" />
<line x1="565.10" y1="608.10" x2="573.50" y2="608.10" stroke="#ff3333" stroke-width="1.2" />
<line x1="565.10" y1="620.00" x2="573.50" y2="620.00" stroke="#ff3333" stroke-width="1.2" />
<rect x="400.30" y="560.40" width="204.30" height="183.00" fill="none" stroke="#989898" stroke-width="1.4"/>
<line x1="396.30" y1="736.70" x2="400.30" y2="736.70" stroke="#999" stroke-width="1" />
<text x="395.50" y="742.60" font-size="16.5" text-anchor="end" >1</text>
<line x1="396.30" y1="694.35" x2="400.30" y2="694.35" stroke="#999" stroke-width="1" />
<text x="395.50" y="700.25" font-size="16.5" text-anchor="end" >2</text>
<line x1="396.30" y1="652.00" x2="400.30" y2="652.00" stroke="#999" stroke-width="1" />
<text x="395.50" y="657.90" font-size="16.5" text-anchor="end" >3</text>
<line x1="396.30" y1="609.65" x2="400.30" y2="609.65" stroke="#999" stroke-width="1" />
<text x="395.50" y="615.55" font-size="16.5" text-anchor="end" >4</text>
<line x1="396.30" y1="567.30" x2="400.30" y2="567.30" stroke="#999" stroke-width="1" />
<text x="395.50" y="573.20" font-size="16.5" text-anchor="end" >5</text>
<text x="435.40" y="551.90" font-size="16.5" text-anchor="start" >Chr05:8,666,663</text>
<text x="0" y="0" font-size="16.5" text-anchor="middle" transform="translate(374.00,648.50) rotate(-90)">Score</text>
<text x="444.30" y="756.90" font-size="16.5" text-anchor="middle" >BTx623</text>
<text x="444.30" y="775.90" font-size="16.5" text-anchor="middle" >type</text>
<text x="545.70" y="757.20" font-size="16.5" text-anchor="middle" >NOG</text>
<text x="545.70" y="776.90" font-size="16.5" text-anchor="middle" >type</text>
<text x="1.50" y="19.40" font-size="21" text-anchor="start" font-weight="bold">a</text>
<text x="0.20" y="834.30" font-size="20" text-anchor="start" font-weight="bold">b</text>
<line x1="30.70" y1="825.40" x2="683.80" y2="825.40" stroke="#000" stroke-width="1.4" />
<line x1="30.70" y1="865.40" x2="683.80" y2="865.40" stroke="#000" stroke-width="1.4" />
<line x1="30.70" y1="986.80" x2="683.80" y2="986.80" stroke="#000" stroke-width="1.4" />
<text x="45.50" y="849.80" font-size="16.3" textLength="35.50" lengthAdjust="spacing" >QTL</text>
<text x="100.10" y="849.80" font-size="16.3" textLength="95.60" lengthAdjust="spacing" >Generation</text>
<text x="202.30" y="849.80" font-size="16.3" textLength="29.60" lengthAdjust="spacing" >Chr</text>
<text x="240.60" y="840.40" font-size="16.3" textLength="131.20" lengthAdjust="spacing" >Marker interval</text>
<text x="262.70" y="860.20" font-size="16.3" textLength="85.50" lengthAdjust="spacing" >(1.5-LOD)</text>
<text x="406.50" y="840.40" font-size="16.3" textLength="67.60" lengthAdjust="spacing" >Nearest</text>
<text x="409.90" y="860.20" font-size="16.3" textLength="58.90" lengthAdjust="spacing" >marker</text>
<text x="512.00" y="840.40" font-size="16.3" textLength="70.20" lengthAdjust="spacing" >Position</text>
<text x="527.90" y="860.20" font-size="16.3" textLength="36.60" lengthAdjust="spacing" >(cM)</text>
<text x="591.70" y="850.00" font-size="16.3" textLength="37.60" lengthAdjust="spacing" >LOD</text>
<text x="639.30" y="840.40" font-size="16.3" textLength="36.60" lengthAdjust="spacing" >PVE</text>
<text x="643.30" y="860.20" font-size="16.3" textLength="29.10" lengthAdjust="spacing" >(%)</text>
<text x="33.40" y="891.10" font-size="16.6" textLength="59.40" lengthAdjust="spacing" font-style="italic">qOPS5</text>
<text x="139.40" y="891.10" font-size="16.6"  >F</text>
<text x="150.80" y="894.90" font-size="11"  >9</text>
<text x="213.10" y="891.10" font-size="16.6"  >5</text>
<text x="239.50" y="881.50" font-size="16.6" textLength="128.30" lengthAdjust="spacing" >Chr05.7,756,251-</text>
<text x="239.50" y="901.00" font-size="16.6" textLength="122.30" lengthAdjust="spacing" >Chr05.8,912,816</text>
<text x="379.50" y="891.10" font-size="16.6" textLength="122.30" lengthAdjust="spacing" >Chr05:8,666,663</text>
<text x="531.40" y="891.10" font-size="16.6" textLength="32.20" lengthAdjust="spacing" >22.1</text>
<text x="592.30" y="891.10" font-size="16.6" textLength="36.30" lengthAdjust="spacing" >21.9</text>
<text x="639.10" y="891.10" font-size="16.6" textLength="36.80" lengthAdjust="spacing" >42.3</text>
<text x="33.40" y="931.80" font-size="16.6" textLength="59.40" lengthAdjust="spacing" font-style="italic">qOPS5</text>
<text x="135.50" y="931.80" font-size="16.6"  >F</text>
<text x="147.60" y="935.60" font-size="11" textLength="12.10" lengthAdjust="spacing" >10</text>
<text x="213.10" y="931.80" font-size="16.6"  >5</text>
<text x="239.50" y="922.20" font-size="16.6" textLength="121.30" lengthAdjust="spacing" >Chr05.7,903,844</text>
<text x="239.50" y="941.70" font-size="16.6" textLength="128.30" lengthAdjust="spacing" >-Chr05.8,768,110</text>
<text x="379.50" y="931.80" font-size="16.6" textLength="122.30" lengthAdjust="spacing" >Chr05:8,666,663</text>
<text x="531.40" y="931.80" font-size="16.6" textLength="32.20" lengthAdjust="spacing" >22.1</text>
<text x="592.30" y="931.80" font-size="16.6" textLength="36.30" lengthAdjust="spacing" >26.4</text>
<text x="639.10" y="931.80" font-size="16.6" textLength="36.80" lengthAdjust="spacing" >52.6</text>
<text x="33.40" y="972.40" font-size="16.6" textLength="59.40" lengthAdjust="spacing" font-style="italic">qOPS5</text>
<text x="135.60" y="972.40" font-size="16.6"  >F</text>
<text x="148.00" y="976.20" font-size="11" textLength="12.40" lengthAdjust="spacing" >11</text>
<text x="213.10" y="972.40" font-size="16.6"  >5</text>
<text x="237.60" y="962.80" font-size="16.6" textLength="123.30" lengthAdjust="spacing" >Chr05.6,767,884</text>
<text x="237.60" y="982.30" font-size="16.6" textLength="129.20" lengthAdjust="spacing" >-Chr05.8,912,816</text>
<text x="379.50" y="972.40" font-size="16.6" textLength="122.30" lengthAdjust="spacing" >Chr05:8,666,663</text>
<text x="531.40" y="972.40" font-size="16.6" textLength="32.20" lengthAdjust="spacing" >22.1</text>
<text x="597.40" y="972.40" font-size="16.6" textLength="26.10" lengthAdjust="spacing" >9.9</text>
<text x="638.10" y="972.40" font-size="16.6" textLength="37.80" lengthAdjust="spacing" >18.5</text>
<rect x="74.10" y="125.00" width="3.47" height="3.00" fill="#fff"/>
<rect x="79.47" y="125.00" width="3.34" height="3.00" fill="#fff"/>
<rect x="74.10" y="87.00" width="3.47" height="3.00" fill="#fff"/>
<rect x="79.47" y="87.00" width="3.34" height="3.00" fill="#fff"/>
<rect x="107.26" y="222.00" width="3.47" height="3.00" fill="#fff"/>
<rect x="112.63" y="222.00" width="3.34" height="3.00" fill="#fff"/>
<rect x="282.28" y="222.00" width="3.47" height="3.00" fill="#fff"/>
<rect x="287.65" y="222.00" width="3.34" height="3.00" fill="#fff"/>
<rect x="77.90" y="406.00" width="3.47" height="3.00" fill="#fff"/>
<rect x="83.27" y="406.00" width="3.34" height="3.00" fill="#fff"/>
<rect x="77.90" y="375.00" width="3.47" height="3.00" fill="#fff"/>
<rect x="83.27" y="375.00" width="3.34" height="3.00" fill="#fff"/>
<rect x="109.16" y="488.00" width="3.47" height="3.00" fill="#fff"/>
<rect x="114.53" y="488.00" width="3.34" height="3.00" fill="#fff"/>
<rect x="281.78" y="488.00" width="3.47" height="3.00" fill="#fff"/>
<rect x="287.15" y="488.00" width="3.34" height="3.00" fill="#fff"/>
<rect x="134.30" y="281.00" width="2.42" height="3.00" fill="#fff"/>
<rect x="138.09" y="281.00" width="2.34" height="3.00" fill="#fff"/>
<rect x="71.60" y="572.00" width="3.47" height="3.00" fill="#fff"/>
<rect x="76.97" y="572.00" width="3.34" height="3.00" fill="#fff"/>
<rect x="109.16" y="760.00" width="3.47" height="3.00" fill="#fff"/>
<rect x="114.53" y="760.00" width="3.34" height="3.00" fill="#fff"/>
<rect x="283.48" y="760.00" width="3.47" height="3.00" fill="#fff"/>
<rect x="288.85" y="760.00" width="3.34" height="3.00" fill="#fff"/>
<rect x="135.60" y="552.00" width="2.42" height="3.00" fill="#fff"/>
<rect x="139.39" y="552.00" width="2.34" height="3.00" fill="#fff"/>
<rect x="140.65" y="552.00" width="2.42" height="3.00" fill="#fff"/>
<rect x="144.44" y="552.00" width="2.34" height="3.00" fill="#fff"/>
<rect x="380.57" y="205.00" width="3.47" height="3.00" fill="#fff"/>
<rect x="385.94" y="205.00" width="3.34" height="3.00" fill="#fff"/>
<rect x="380.57" y="472.00" width="3.47" height="3.00" fill="#fff"/>
<rect x="385.94" y="472.00" width="3.34" height="3.00" fill="#fff"/>
<rect x="386.77" y="741.00" width="3.47" height="3.00" fill="#fff"/>
<rect x="392.14" y="741.00" width="3.34" height="3.00" fill="#fff"/>
<rect x="270.20" y="858.00" width="3.44" height="3.00" fill="#fff"/>
<rect x="275.52" y="858.00" width="3.31" height="3.00" fill="#fff"/>
<rect x="353.56" y="880.00" width="3.49" height="2.00" fill="#fff"/>
<rect x="358.96" y="880.00" width="3.36" height="2.00" fill="#fff"/>
<rect x="311.98" y="899.00" width="3.49" height="3.00" fill="#fff"/>
<rect x="317.38" y="899.00" width="3.36" height="3.00" fill="#fff"/>
<rect x="343.90" y="899.00" width="3.49" height="3.00" fill="#fff"/>
<rect x="349.30" y="899.00" width="3.36" height="3.00" fill="#fff"/>
<rect x="554.83" y="889.00" width="3.49" height="3.00" fill="#fff"/>
<rect x="560.23" y="889.00" width="3.36" height="3.00" fill="#fff"/>
<rect x="603.32" y="889.00" width="3.49" height="3.00" fill="#fff"/>
<rect x="608.72" y="889.00" width="3.36" height="3.00" fill="#fff"/>
<rect x="147.64" y="934.00" width="2.51" height="3.00" fill="#fff"/>
<rect x="151.56" y="934.00" width="2.42" height="3.00" fill="#fff"/>
<rect x="341.76" y="940.00" width="3.49" height="3.00" fill="#fff"/>
<rect x="347.16" y="940.00" width="3.36" height="3.00" fill="#fff"/>
<rect x="349.78" y="940.00" width="3.49" height="3.00" fill="#fff"/>
<rect x="355.17" y="940.00" width="3.36" height="3.00" fill="#fff"/>
<rect x="554.83" y="930.00" width="3.49" height="3.00" fill="#fff"/>
<rect x="560.23" y="930.00" width="3.36" height="3.00" fill="#fff"/>
<rect x="148.04" y="975.00" width="2.51" height="2.00" fill="#fff"/>
<rect x="151.96" y="975.00" width="2.42" height="2.00" fill="#fff"/>
<rect x="154.31" y="975.00" width="2.51" height="2.00" fill="#fff"/>
<rect x="158.23" y="975.00" width="2.42" height="2.00" fill="#fff"/>
<rect x="316.49" y="980.00" width="3.49" height="3.00" fill="#fff"/>
<rect x="321.89" y="980.00" width="3.36" height="3.00" fill="#fff"/>
<rect x="348.80" y="980.00" width="3.49" height="3.00" fill="#fff"/>
<rect x="354.20" y="980.00" width="3.36" height="3.00" fill="#fff"/>
<rect x="554.83" y="970.00" width="3.49" height="3.00" fill="#fff"/>
<rect x="560.23" y="970.00" width="3.36" height="3.00" fill="#fff"/>
<rect x="638.56" y="970.00" width="3.49" height="3.00" fill="#fff"/>
<rect x="643.96" y="970.00" width="3.36" height="3.00" fill="#fff"/>
</svg>
</body></html>
